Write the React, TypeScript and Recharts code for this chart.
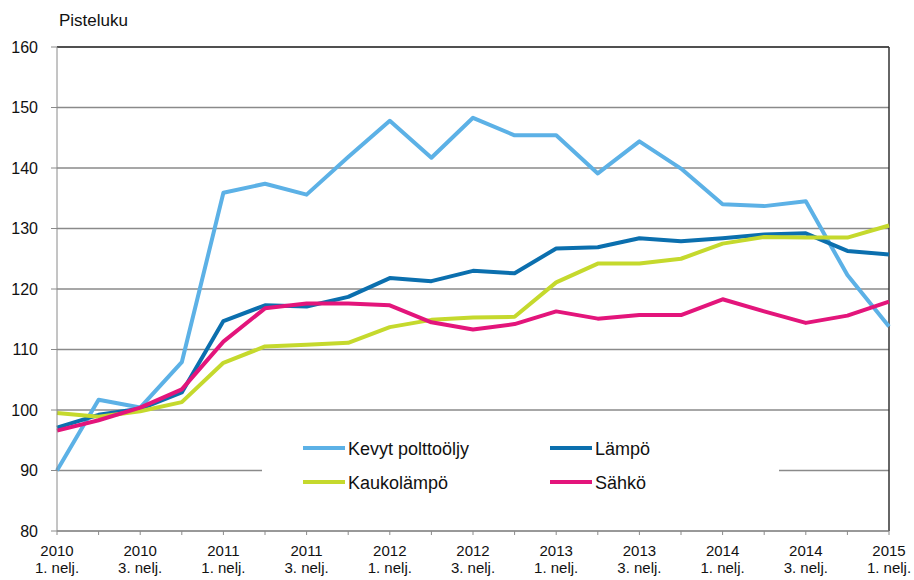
import {
	CartesianGrid,
	Legend,
	Line,
	LineChart,
	ReferenceLine,
	XAxis,
	YAxis,
} from "recharts";

// quarters "year-quarter"
const quarters = [
	"2010-1", "2010-2", "2010-3", "2010-4",
	"2011-1", "2011-2", "2011-3", "2011-4",
	"2012-1", "2012-2", "2012-3", "2012-4",
	"2013-1", "2013-2", "2013-3", "2013-4",
	"2014-1", "2014-2", "2014-3", "2014-4",
	"2015-1",
];

const kevytPolttooljy = [
	90.0, 101.7, 100.4, 107.9, 135.9, 137.4, 135.6, 141.8, 147.8, 141.7, 148.3,
	145.4, 145.4, 139.1, 144.4, 139.9, 134.0, 133.7, 134.5, 122.3, 113.8,
];
const lampo = [
	97.1, 99.2, 100.2, 102.9, 114.7, 117.3, 117.1, 118.7, 121.8, 121.3, 123.0,
	122.6, 126.7, 126.9, 128.4, 127.9, 128.4, 129.0, 129.2, 126.3, 125.7,
];
const kaukolampo = [
	99.5, 98.9, 99.8, 101.3, 107.8, 110.5, 110.8, 111.1, 113.7, 114.9, 115.3,
	115.4, 121.1, 124.2, 124.2, 125.0, 127.5, 128.6, 128.5, 128.5, 130.5,
];
const sahko = [
	96.6, 98.3, 100.4, 103.4, 111.3, 116.8, 117.6, 117.6, 117.3, 114.5, 113.3,
	114.2, 116.3, 115.1, 115.7, 115.7, 118.3, 116.3, 114.4, 115.6, 117.9,
];

const yTicks = [80, 90, 100, 110, 120, 130, 140, 150, 160];

const series = [
	{ key: "kevyt", name: "Kevyt polttoöljy", color: "#5cb1e6" },
	{ key: "lampo", name: "Lämpö", color: "#0b6fae" },
	{ key: "kauko", name: "Kaukolämpö", color: "#c5d92d" },
	{ key: "sahko", name: "Sähkö", color: "#e3157b" },
];

const data = quarters.map((q, i) => ({
	q,
	kevyt: kevytPolttooljy[i],
	lampo: lampo[i],
	kauko: kaukolampo[i],
	sahko: sahko[i],
}));

const FONT = "'Liberation Sans', Arial, sans-serif";

// label only every second quarter, tick marks on all
function QuarterTick(props: any) {
	const { x, y, payload, index } = props;
	const idx = index ?? payload?.index ?? 0;
	if (idx % 2 !== 0) return null;
	const [year, quarter] = String(payload.value).split("-");
	return (
		<text x={x} y={y + 21} textAnchor="middle" fontSize={15} fill="#111" fontFamily={FONT}>
			<tspan x={x}>{year}</tspan>
			<tspan x={x} dy={17}>{`${quarter}. nelj.`}</tspan>
		</text>
	);
}

function BoxLegend() {
	const cols = [
		[series[0], series[2]],
		[series[1], series[3]],
	];
	const colX = [41, 288];
	const rowY = [23, 57];
	return (
		<svg width={517} height={80} style={{ display: "block" }}>
			{cols.map((col, c) =>
				col.map((s, r) => (
					<g key={s.key}>
						<line
							x1={colX[c]}
							x2={colX[c] + 42}
							y1={rowY[r]}
							y2={rowY[r]}
							stroke={s.color}
							strokeWidth={4}
						/>
						<text
							x={colX[c] + 45}
							y={rowY[r] + 7}
							fontSize={18}
							fill="#111"
							fontFamily={FONT}
						>
							{s.name}
						</text>
					</g>
				)),
			)}
		</svg>
	);
}

export default function App() {
	return (
		<div
			style={{
				position: "absolute",
				left: 0,
				top: 0,
				width: 914,
				height: 580,
				background: "#fff",
				fontFamily: FONT,
			}}
		>
			<div
				style={{
					position: "absolute",
					left: 59,
					top: 12,
					fontSize: 17,
					lineHeight: "17px",
					color: "#111",
				}}
			>
				Pisteluku
			</div>
			<LineChart
				width={914}
				height={580}
				data={data}
				margin={{ top: 47, right: 25, bottom: 0, left: 7 }}
			>
				<CartesianGrid vertical={false} stroke="#8a8a8a" strokeWidth={1.4} />
				<XAxis
					dataKey="q"
					scale="point"
					padding={{ left: 0, right: 0 }}
					interval={0}
					height={49}
					tickSize={4}
					tickMargin={0}
					stroke="#8a8a8a"
					tick={<QuarterTick />}
				/>
				<YAxis
					width={50}
					domain={[80, 160]}
					ticks={yTicks}
					tickSize={6}
					tickMargin={13}
					stroke="#8a8a8a"
					tick={{ fill: "#111", fontSize: 16, fontFamily: FONT }}
				/>
				<ReferenceLine y={160} stroke="#333" strokeWidth={1.5} />
				<ReferenceLine x="2015-1" stroke="#333" strokeWidth={1.5} />
				<Legend
					layout="horizontal"
					verticalAlign="middle"
					align="center"
					wrapperStyle={{
						left: 262,
						top: 425,
						width: 517,
						height: 80,
						background: "#fff",
					}}
					content={() => <BoxLegend />}
				/>
				{series.map((s) => (
					<Line
						key={s.key}
						dataKey={s.key}
						name={s.name}
						type="linear"
						stroke={s.color}
						strokeWidth={4}
						strokeLinejoin="round"
						dot={false}
						activeDot={false}
						isAnimationActive={false}
					/>
				))}
			</LineChart>
		</div>
	);
}
